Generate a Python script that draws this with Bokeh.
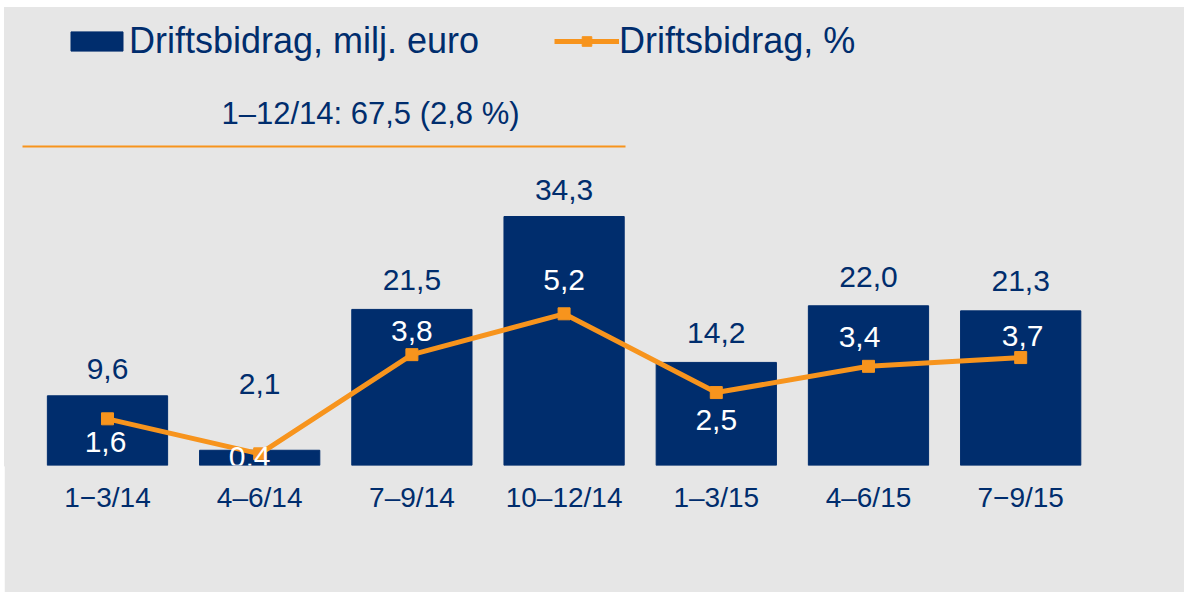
from bokeh.plotting import figure
from bokeh.models import (ColumnDataSource, Range1d, FixedTicker, Legend, LegendItem,
                          LabelSet, Label, BoxAnnotation, Spacer)
from bokeh.layouts import column, row
from bokeh.core.properties import value
from bokeh.embed import file_html
from bokeh.resources import INLINE

# ---- data ----
categories = ["1−3/14", "4–6/14", "7–9/14", "10–12/14", "1–3/15", "4–6/15", "7−9/15"]
bidrag_meur = [9.6, 2.1, 21.5, 34.3, 14.2, 22.0, 21.3]
bidrag_pct = [1.6, 0.4, 3.8, 5.2, 2.5, 3.4, 3.7]
summary_text = "1–12/14: 67,5 (2,8 %)"
legend_labels = ["Driftsbidrag, milj. euro", "Driftsbidrag, %"]

# ---- styles / label placement (screen pixels) ----
meur_label_offset = [27, 66, 29, 27, 29, 29, 30]
pct_label_offset = [-23, -3, 24, 34, -27, 29, 22]
pct_label_xoffset = [-2, -10, 0, 0, 0, -9, 2]

NAVY = "#002D6D"
ORANGE = "#F7941D"
BG = "#E6E6E6"
FONT = "Liberation Sans"


def fi(v):
    return f"{v:.1f}".replace(".", ",")


idx = list(range(len(categories)))
src = ColumnDataSource(dict(
    x=idx, meur=bidrag_meur, pct=bidrag_pct,
    meur_lbl=[fi(v) for v in bidrag_meur], pct_lbl=[fi(v) for v in bidrag_pct],
    meur_off=meur_label_offset, pct_off=pct_label_offset, pct_xoff=pct_label_xoffset,
))

W, H = 1180, 585
p = figure(width=W, height=H, output_backend="svg", toolbar_location=None,
           x_range=Range1d(-0.6767, 7.0763), y_range=Range1d(0, 63.09),
           y_axis_location=None,
           min_border_left=0, min_border_right=0, min_border_top=0, min_border_bottom=127,
           background_fill_color=BG, border_fill_color=BG,
           outline_line_color=BG, outline_line_width=2)
p.extra_y_ranges = {"pct": Range1d(0, 15.70)}
p.xgrid.visible = False
p.ygrid.visible = False

ax = p.xaxis[0]
ax.ticker = FixedTicker(ticks=idx)
ax.major_label_overrides = {i: c for i, c in zip(idx, categories)}
ax.axis_line_color = None
ax.major_tick_line_color = None
ax.minor_tick_line_color = None
ax.major_label_text_font_size = "28px"
ax.major_label_text_font = FONT
ax.major_label_text_color = NAVY
ax.major_label_standoff = 10

bars = p.vbar(x="x", top="meur", bottom=0, width=0.79, source=src,
              fill_color=NAVY, line_color=NAVY)
line = p.line("x", "pct", source=src, y_range_name="pct",
              line_color=ORANGE, line_width=5)
marks = p.scatter("x", "pct", source=src, y_range_name="pct", marker="square",
                  size=12, fill_color=ORANGE, line_color=ORANGE)

p.add_layout(LabelSet(x="x", y="meur", text="meur_lbl", source=src, y_offset="meur_off",
                      text_align="center", text_baseline="middle",
                      text_font=value(FONT), text_font_size="30px", text_color=NAVY))
p.add_layout(LabelSet(x="x", y="pct", text="pct_lbl", source=src, y_range_name="pct",
                      y_offset="pct_off", x_offset="pct_xoff",
                      text_align="center", text_baseline="middle",
                      text_font=value(FONT), text_font_size="30px", text_color="white"))

legend = Legend(items=[LegendItem(label=legend_labels[0], renderers=[bars]),
                       LegendItem(label=legend_labels[1], renderers=[line, marks])],
                orientation="horizontal", location=(60, 403), padding=0, margin=0,
                spacing=75, label_standoff=0, glyph_width=65, glyph_height=24,
                label_text_font_size="36px", label_text_font=FONT,
                label_text_color=NAVY, background_fill_alpha=0, border_line_alpha=0)
p.add_layout(legend)

p.add_layout(Label(x=366, y=352, x_units="screen", y_units="screen", text=summary_text,
                   text_align="center", text_baseline="middle",
                   text_font=FONT, text_font_size="31px", text_color=NAVY))
p.add_layout(BoxAnnotation(left=18, right=621, top=320, bottom=318,
                           left_units="screen", right_units="screen",
                           top_units="screen", bottom_units="screen",
                           fill_color=ORANGE, fill_alpha=1, line_color=None))

layout = column(Spacer(height=7), row(Spacer(width=4), p, spacing=0), spacing=0)
open("out.html", "w").write(file_html(layout, INLINE))
